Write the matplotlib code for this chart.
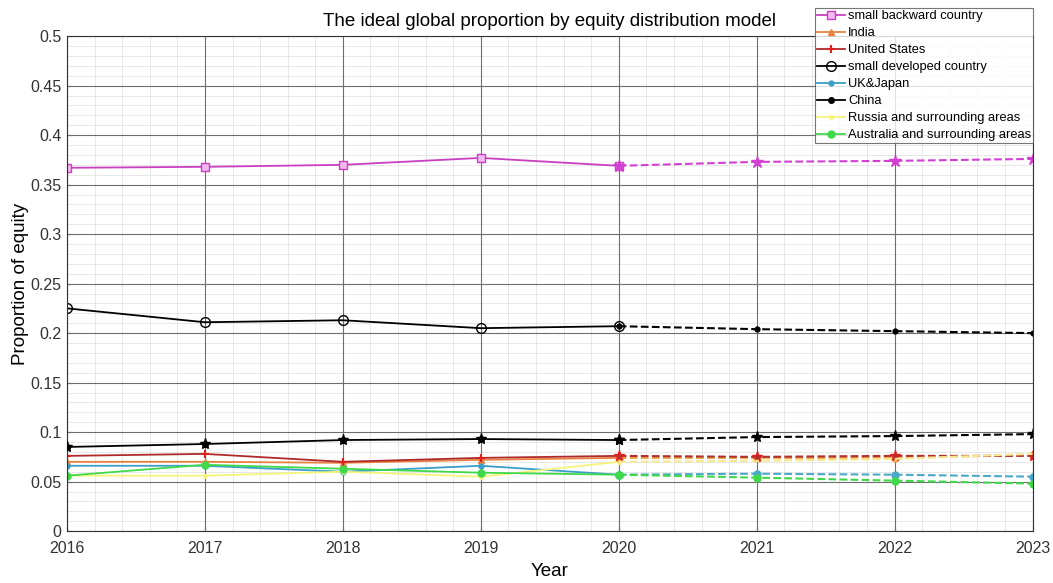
import matplotlib.pyplot as plt
from matplotlib.ticker import AutoMinorLocator

plt.rcParams['font.family'] = ['Liberation Sans', 'DejaVu Sans']

years_hist = [2016, 2017, 2018, 2019, 2020]
years_pred = [2020, 2021, 2022, 2023]

small_backward = [0.367, 0.368, 0.370, 0.377, 0.369]
small_backward_pred = [0.369, 0.373, 0.374, 0.376]
india = [0.070, 0.070, 0.069, 0.072, 0.074]
india_pred = [0.074, 0.074, 0.074, 0.077]
united_states = [0.076, 0.078, 0.070, 0.074, 0.076]
united_states_pred = [0.076, 0.075, 0.076, 0.076]
small_developed = [0.225, 0.211, 0.213, 0.205, 0.207]
small_developed_pred = [0.207, 0.204, 0.202, 0.200]
uk_japan = [0.066, 0.066, 0.060, 0.066, 0.057]
uk_japan_pred = [0.057, 0.058, 0.057, 0.055]
china = [0.085, 0.088, 0.092, 0.093, 0.092]
china_pred = [0.092, 0.095, 0.096, 0.098]
russia = [0.056, 0.056, 0.060, 0.055, 0.070]
russia_pred = [0.070, 0.071, 0.073, 0.078]
australia = [0.056, 0.067, 0.063, 0.059, 0.057]
australia_pred = [0.057, 0.054, 0.051, 0.048]

yticks = [0, 0.05, 0.1, 0.15, 0.2, 0.25, 0.3, 0.35, 0.4, 0.45, 0.5]
ytick_labels = ['0', '0.05', '0.1', '0.15', '0.2', '0.25', '0.3', '0.35', '0.4', '0.45', '0.5']
xticks = [2016, 2017, 2018, 2019, 2020, 2021, 2022, 2023]

fig = plt.figure(figsize=(10.53, 5.83), dpi=100)
ax = fig.add_axes([0.0636, 0.089, 0.917, 0.849])

# historical lines (solid) - these go in the legend
ax.plot(years_hist, small_backward, ls='-', marker='s', color='#c93fc0', mfc='#f3b8ee', mec='#c93fc0', ms=6, lw=1.3, label='small backward country')
ax.plot(years_hist, india, ls='-', marker='^', color='#e8803f', mfc='#e8803f', ms=5, lw=1.3, label='India')
ax.plot(years_hist, united_states, ls='-', marker='+', color='#b02a2a', mec='#e02020', ms=6, mew=1.5, lw=1.3, label='United States')
ax.plot(years_hist, small_developed, ls='-', marker='o', color='black', mfc='none', ms=7, lw=1.3, label='small developed country')
ax.plot(years_hist, uk_japan, ls='-', marker='.', color='#3a9fc8', ms=7, lw=1.3, label='UK&Japan')
ax.plot(years_hist, china, ls='-', marker='o', color='black', ms=4, lw=1.3, label='China')
ax.plot(years_hist, russia, ls='-', marker='.', color='#f5f57a', ms=5, lw=1.3, label='Russia and surrounding areas')
ax.plot(years_hist, australia, ls='-', marker='o', color='#3fd94a', ms=5, lw=1.3, label='Australia and surrounding areas')

# star markers on china history
ax.plot(years_hist, china, ls='none', marker='*', color='black', ms=8, zorder=5)

# predictions (dashed)
ax.plot(years_pred, small_backward_pred, ls='--', marker='*', color='#d23fd2', ms=9, lw=1.5)
ax.plot(years_pred, india_pred, ls='--', marker='o', color='#f0a040', mfc='#f5d060', ms=5, lw=1.5)
ax.plot(years_pred, united_states_pred, ls='--', marker='*', color='#b03030', mec='#e02020', ms=8, lw=1.5)
ax.plot(years_pred, small_developed_pred, ls='--', marker='.', color='black', ms=7, lw=1.5)
ax.plot(years_pred, uk_japan_pred, ls='--', marker='o', color='#4aa8c8', ms=5, lw=1.5)
ax.plot(years_pred, china_pred, ls='--', marker='*', color='black', ms=8, lw=1.5)
ax.plot(years_pred, russia_pred, ls='--', color='#f8e890', lw=1.5)
ax.plot(years_pred, australia_pred, ls='--', marker='o', color='#3fd94a', ms=5, lw=1.5)

ax.set_xlim(2016, 2023)
ax.set_ylim(0, 0.5)
ax.set_xticks(xticks)
ax.xaxis.set_minor_locator(AutoMinorLocator(5))
ax.set_yticks(yticks)
ax.set_yticklabels(ytick_labels)
ax.yaxis.set_minor_locator(AutoMinorLocator(5))
ax.grid(which='minor', color='#e4e4e4', lw=0.6)
ax.set_axisbelow(True)
# major grid drawn on top of the minor one
for x in xticks:
    ax.axvline(x, color='#6e6e6e', lw=0.8, zorder=0.8)
for y in yticks:
    ax.axhline(y, color='#6e6e6e', lw=0.8, zorder=0.8)

ax.tick_params(which='both', direction='in', labelsize=11.5, colors='#333333')
ax.tick_params(axis='y', pad=4)
ax.tick_params(axis='x', pad=7)
ax.tick_params(which='minor', length=0)
for s in ax.spines.values():
    s.set_color('#333333')

ax.set_xlabel('Year', fontsize=13.5, labelpad=5)
ax.set_ylabel('Proportion of equity', fontsize=13.5, labelpad=1)
ax.set_title('The ideal global proportion by equity distribution model', fontsize=13.5, pad=7)

leg = fig.legend(loc='lower right', bbox_to_anchor=(0.981, 0.7547), fontsize=9.3,
                 frameon=True, fancybox=False, edgecolor='#555555', borderpad=0.15,
                 labelspacing=0.38, handlelength=2.2, handletextpad=0.2,
                 borderaxespad=0)
leg.get_frame().set_linewidth(0.8)

fig.savefig('out.png', dpi=100)
